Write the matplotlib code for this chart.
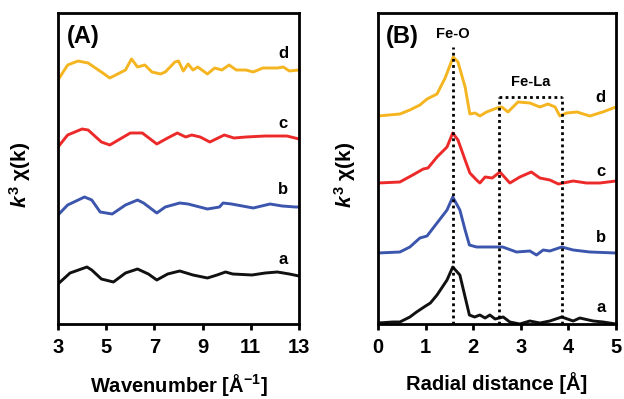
import matplotlib
matplotlib.use("Agg")
import matplotlib.pyplot as plt
import numpy as np

plt.rcParams['font.family'] = ['Liberation Sans', 'DejaVu Sans']
plt.rcParams['font.weight'] = 'bold'
plt.rcParams['mathtext.fontset'] = 'custom'
plt.rcParams['mathtext.rm'] = 'Liberation Sans:bold'
plt.rcParams['mathtext.it'] = 'Liberation Sans:italic:bold'
plt.rcParams['mathtext.bf'] = 'Liberation Sans:bold'

# ---------------- Panel A : k^3 chi(k) vs wavenumber ----------------
k_a = [3, 3.5, 4.2, 4.4, 4.8, 5.3, 5.8, 6.3, 6.75, 7.1, 7.55, 8.05, 8.6, 9.2, 9.6, 9.95, 10.25, 11.05, 11.6, 12.1, 12.6, 13]
chi_a = [-10, 1, 7, 4, -5, -8, 1, 5, 0, -6, 0, 3, -1, -4, -1, 2, 0, -1, 1, 2, 0, -2]

k_b = [3, 3.4, 4.1, 4.4, 4.75, 5.25, 5.8, 6.3, 6.55, 7.1, 7.45, 8.05, 8.4, 9.2, 9.7, 9.85, 10.2, 11.1, 11.8, 12.3, 12.85, 13]
chi_b = [-8, 2, 10, 7, -5, -7, 2, 7, 4, -6, 0, 4, 3, -2, 0, 4, 3, -1, 3, 1, 0, 0]

k_c = [3, 3.4, 4.0, 4.25, 4.8, 5.15, 6.0, 6.5, 7.1, 7.55, 7.95, 8.3, 8.55, 8.9, 9.3, 9.9, 10.3, 10.8, 11.6, 12.5, 13]
chi_c = [-10, 2, 8, 7, -5, -8, 4, 4, -7, -1, 4, 0, 2, 0, -5, 2, -1, 0, 1, 1, -2]

k_d = [3, 3.4, 3.83, 4.25, 4.8, 5.15, 5.8, 6.05, 6.3, 6.6, 6.9, 7.25, 7.45, 7.85, 8.0, 8.2, 8.4, 8.6, 8.8, 9.2, 9.5,
       9.8, 10.1, 10.4, 10.8, 11.1, 11.5, 12.1, 12.35, 12.6, 13]
chi_d = [-10, 5, 9, 7, -2, -8, 0, 11, 3, 5, -2, -4, -2, 8, 9, -1, 6, 0, 3, -4, 2,
         0, 5, 0, 0, -2, 2, 2, 3, -1, 0]

offsets_a = {'a': 50, 'b': 117, 'c': 187, 'd': 254}

# ---------------- Panel B : Fourier transform vs radial distance ----------------
r_a = [0, 0.31, 0.46, 0.67, 0.81, 1.0, 1.1, 1.24, 1.45, 1.57, 1.72, 1.83, 1.92, 2.03, 2.14, 2.25, 2.35, 2.46,
       2.63, 2.77, 2.98, 3.19, 3.4, 3.61, 3.86, 4.1, 4.24, 4.52, 4.73, 5]
ft_a = [0, 1, 1, 6, 11, 17, 20, 28, 43, 56, 48, 26, 8, 6, 8, 5, 8, 4, 6, 1, -1, 2, 0, 2, 6, 2, 5, 2, 1, -1]

r_b = [0, 0.46, 0.67, 0.88, 1.03, 1.24, 1.45, 1.57, 1.72, 1.83, 1.92, 2.07, 2.35, 2.62, 2.91, 3.19, 3.33, 3.47,
       3.61, 3.86, 4.1, 4.45, 5]
ft_b = [0, 1, 6, 15, 17, 30, 43, 56, 43, 23, 8, 6, 6, 6, 1, 2, -2, 3, 2, 6, 3, 1, 0]

r_c = [0, 0.46, 0.73, 0.95, 1.05, 1.24, 1.45, 1.57, 1.68, 1.83, 1.93, 2.07, 2.14, 2.25, 2.4, 2.56, 2.77, 2.98,
       3.22, 3.4, 3.61, 3.79, 4.1, 4.38, 4.66, 5]
ft_c = [0, 1, 8, 14, 15, 26, 36, 50, 43, 23, 10, 3, 0, 6, 5, 11, 0, 6, 11, 5, 3, -1, 2, 0, 0, 2]

r_d = [0, 0.46, 0.67, 0.88, 1.03, 1.24, 1.41, 1.58, 1.68, 1.83, 1.93, 2.04, 2.14, 2.28, 2.5, 2.6, 2.73, 2.94,
       3.19, 3.4, 3.57, 3.72, 3.82, 3.96, 4.18, 4.45, 4.72, 5]
ft_d = [0, 2, 6, 11, 17, 22, 38, 59, 54, 29, 2, 3, 0, 4, 8, 9, 4, 14, 13, 9, 12, 9, 0, 3, 4, 0, 4, 9]

offsets_b = {'a': 1, 'b': 71, 'c': 141, 'd': 208}

fe_o_r = 1.58
fe_la_range = (2.54, 3.87)

colors = {'a': '#111111', 'b': '#3c55ad', 'c': '#ec2a2a', 'd': '#f5b520'}
YMAX = 311

fig = plt.figure(figsize=(6.24, 3.99), dpi=100)
axA = fig.add_axes([58/624, 75/399, 241/624, 311/399])
axB = fig.add_axes([378/624, 75/399, 238/624, 311/399])

seriesA = {'a': (k_a, chi_a), 'b': (k_b, chi_b), 'c': (k_c, chi_c), 'd': (k_d, chi_d)}
seriesB = {'a': (r_a, ft_a), 'b': (r_b, ft_b), 'c': (r_c, ft_c), 'd': (r_d, ft_d)}

for key, (x, y) in seriesA.items():
    axA.plot(x, np.array(y) + offsets_a[key], color=colors[key], lw=2.1,
             solid_joinstyle='round', solid_capstyle='round')
for key, (x, y) in seriesB.items():
    axB.plot(x, np.array(y) + offsets_b[key], color=colors[key], lw=2.1,
             solid_joinstyle='round', solid_capstyle='round')

for ax in (axA, axB):
    ax.set_ylim(0, YMAX)
    ax.set_yticks([])
    for s in ax.spines.values():
        s.set_linewidth(2.0)
    ax.tick_params(axis='x', direction='out', length=4.5, width=2.0, labelsize=14.5, pad=5.5)
    for lab in ax.get_xticklabels():
        lab.set_fontweight('bold')
    ax.set_ylabel(r'$\mathit{k}^{3}$ χ(k)', fontsize=15, fontweight='bold')

axA.set_xlim(3, 13)
axA.set_xticks([3, 5, 7, 9, 11, 13])
axA.set_xlabel('Wavenumber [Å$^{-1}$]', fontsize=14.5, fontweight='bold')
axA.yaxis.set_label_coords(-0.105, 0.48)
axA.xaxis.set_label_coords(0.5, -0.155)

axB.set_xlim(0, 5)
axB.set_xticks([0, 1, 2, 3, 4, 5])
axB.set_xlabel('Radial distance [Å]', fontsize=14.5, fontweight='bold')
axB.yaxis.set_label_coords(-0.085, 0.48)
axB.xaxis.set_label_coords(0.5, -0.155)

# curve labels
posA = {'a': 65, 'b': 134, 'c': 200, 'd': 271}
for key, yv in posA.items():
    axA.text(12.34, yv, key, fontsize=12, fontweight='bold', ha='center', va='center')
posB = {'a': 17, 'b': 87, 'c': 153, 'd': 227}
for key, yv in posB.items():
    axB.text(4.68, yv, key, fontsize=12, fontweight='bold', ha='center', va='center')

axA.text(3.37, 288, '(A)', fontsize=17, fontweight='bold', ha='left', va='center')
axB.text(0.17, 288, '(B)', fontsize=17, fontweight='bold', ha='left', va='center')

dot = dict(color='black', lw=2.0, ls=(0, (1, 1.2)))
axB.plot([fe_o_r, fe_o_r], [0, 277], **dot)
axB.plot([fe_la_range[0], fe_la_range[0]], [0, 227], **dot)
axB.plot([fe_la_range[1], fe_la_range[1]], [0, 227], **dot)
axB.plot([fe_la_range[0], fe_la_range[1]], [227, 227], **dot)
axB.text(fe_o_r, 290, 'Fe-O', fontsize=10.5, fontweight='bold', ha='center', va='center')
axB.text(sum(fe_la_range)/2, 242, 'Fe-La', fontsize=10.5, fontweight='bold', ha='center', va='center')

fig.savefig('out.png', dpi=100)
